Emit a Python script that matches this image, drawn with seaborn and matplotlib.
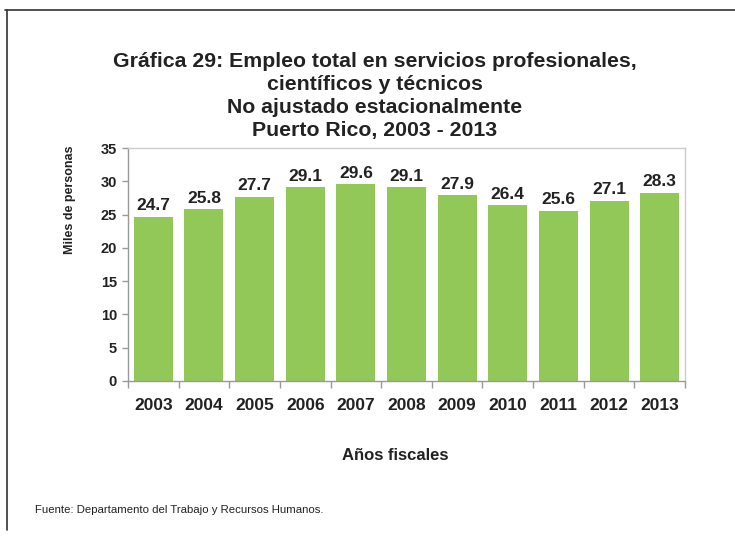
import matplotlib
matplotlib.use("Agg")
import matplotlib.pyplot as plt
import seaborn as sns
import pandas as pd
import numpy as np
from matplotlib.lines import Line2D

years = ["2003", "2004", "2005", "2006", "2007", "2008", "2009", "2010", "2011", "2012", "2013"]
values = [24.7, 25.8, 27.7, 29.1, 29.6, 29.1, 27.9, 26.4, 25.6, 27.1, 28.3]
yticks = [0, 5, 10, 15, 20, 25, 30, 35]

sns.set_theme(style="white")
plt.rcParams['font.family'] = ['Liberation Sans', 'DejaVu Sans']

df = pd.DataFrame({"year": years, "value": values})

fig = plt.figure(figsize=(7.35, 5.39), dpi=100)
ax = fig.add_axes([128/735, 1-381/539, (685-128)/735, (381-148)/539])

sns.barplot(data=df, x="year", y="value", color="#92C857", width=0.77,
            saturation=1, ax=ax, edgecolor="none")

for i, v in enumerate(values):
    ax.text(i, v + 0.5, f"{v:.1f}", ha="center", va="bottom",
            fontsize=12.5, fontweight="bold", color="#222222")

ax.set_ylim(0, 35)
ax.set_xlim(-0.5, len(years) - 0.5)
ax.set_yticks(yticks)
ax.set_yticklabels([str(t) for t in yticks], fontsize=10.5, fontweight="bold", color="#222222")
ax.tick_params(axis="x", which="major", length=0, labelsize=12.5, pad=12)
for lbl in ax.get_xticklabels():
    lbl.set_fontweight("bold")
    lbl.set_color("#222222")
ax.set_xticks(np.arange(-0.5, len(years), 1), minor=True)
ax.tick_params(axis="x", which="minor", length=5, color="#999999", width=1, direction="out", bottom=True)
ax.tick_params(axis="y", which="major", length=4, color="#999999", width=1, direction="out", left=True, pad=4)

ax.set_xlabel("Años fiscales", fontsize=12, fontweight="bold", color="#222222")
ax.xaxis.set_label_coords((395-128)/557, (381-455)/233)
ax.xaxis.label.set_va("center")
ax.set_ylabel("Miles de personas", fontsize=9, fontweight="bold", color="#222222")
ax.yaxis.set_label_coords((70-128)/557, (381-200)/233)
ax.yaxis.label.set_va("center")

for side in ["left", "bottom"]:
    ax.spines[side].set_color("#999999")
    ax.spines[side].set_linewidth(1)
for side in ["top", "right"]:
    ax.spines[side].set_visible(True)
    ax.spines[side].set_color("#cccccc")
    ax.spines[side].set_linewidth(1)

title = ("Gráfica 29: Empleo total en servicios profesionales,\n"
         "científicos y técnicos\n"
         "No ajustado estacionalmente\n"
         "Puerto Rico, 2003 - 2013")
fig.text(375/735, 1-52/539, title, ha="center", va="top", fontsize=15.3,
         fontweight="bold", color="#222222", linespacing=1.26)

fig.text(35/735, 1-510/539, "Fuente: Departamento del Trabajo y Recursos Humanos.",
         ha="left", va="center", fontsize=8.2, color="#222222")

fig.add_artist(Line2D([5/735, 1], [1-10/539, 1-10/539], transform=fig.transFigure,
                      color="#333333", linewidth=1.2))
fig.add_artist(Line2D([7/735, 7/735], [1-10/539, 1-530/539], transform=fig.transFigure,
                      color="#333333", linewidth=1.2))

fig.savefig("out.png", dpi=100)
